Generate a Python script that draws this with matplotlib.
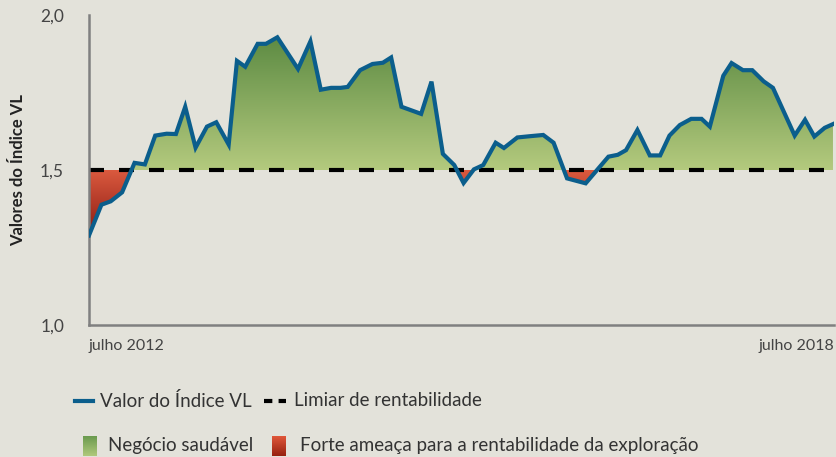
import numpy as np
import matplotlib
matplotlib.use("Agg")
import matplotlib.pyplot as plt
from matplotlib.path import Path
from matplotlib.patches import PathPatch
from matplotlib.lines import Line2D
from matplotlib.colors import LinearSegmentedColormap

# months since July 2012 and value of the VL index
months = [0.0, 1.2, 2.1, 3.2, 4.4, 5.4, 6.4, 7.5, 8.4, 9.3,
          10.3, 11.4, 12.3, 13.5, 14.3, 15.1, 16.3, 17.1, 18.2, 20.2,
          21.4, 22.4, 23.4, 24.3, 25.0, 26.2, 27.4, 28.4, 29.2, 30.2,
          32.1, 33.1, 34.2, 35.3, 36.2, 37.2, 38.1, 39.3, 40.1, 41.4,
          42.6, 43.9, 44.9, 46.2, 48.0, 50.2, 51.1, 51.9, 53.0, 54.2,
          55.2, 56.1, 57.1, 58.2, 59.2, 60.0, 61.3, 62.1, 63.2, 64.1,
          65.2, 66.1, 68.2, 69.2, 70.1, 71.1, 71.9]
index_vl = [1.289, 1.388, 1.399, 1.428, 1.523, 1.518, 1.611, 1.617, 1.616, 1.704,
            1.572, 1.640, 1.654, 1.582, 1.852, 1.833, 1.907, 1.907, 1.928, 1.826,
            1.915, 1.759, 1.765, 1.765, 1.768, 1.822, 1.842, 1.846, 1.863, 1.704,
            1.681, 1.785, 1.552, 1.516, 1.458, 1.502, 1.516, 1.588, 1.571, 1.605,
            1.609, 1.613, 1.588, 1.473, 1.457, 1.543, 1.549, 1.564, 1.629, 1.547,
            1.547, 1.611, 1.645, 1.665, 1.665, 1.640, 1.804, 1.845, 1.822, 1.822,
            1.786, 1.765, 1.611, 1.662, 1.608, 1.636, 1.648]
threshold = 1.5
x_ticks = [0, 72]
x_labels = ["julho 2012", "julho 2018"]
y_ticks = [1.0, 1.5, 2.0]
y_labels = ["1,0", "1,5", "2,0"]

BG = "#e3e2da"
LINE = "#0b5e8c"
TXT = "#333333"
plt.rcParams["font.family"] = ["Lato", "DejaVu Sans"]

x = np.array(months)
y = np.array(index_vl)

fig = plt.figure(figsize=(8.36, 4.57), dpi=100, facecolor=BG)
ax = fig.add_axes([89 / 836, 1 - 325 / 457, 745 / 836, 310 / 457])
ax.set_facecolor(BG)

green = LinearSegmentedColormap.from_list("g", ["#b4ca7e", "#5d8b43"])
red = LinearSegmentedColormap.from_list("r", ["#8a1a12", "#dc5b3f"])
grad = np.linspace(0, 1, 256).reshape(-1, 1)


def gradient_fill(mask, cmap, lo, hi):
    coll = ax.fill_between(x, y, threshold, where=mask, interpolate=True,
                           facecolor="none", edgecolor="none")
    path = Path.make_compound_path(*coll.get_paths())
    patch = PathPatch(path, transform=ax.transData, facecolor="none", edgecolor="none")
    ax.add_patch(patch)
    im = ax.imshow(grad, extent=[x[0], x[-1], lo, hi], origin="lower", cmap=cmap,
                   aspect="auto", zorder=1, interpolation="bilinear")
    im.set_clip_path(patch)


gradient_fill(y >= threshold, green, threshold, y.max())
gradient_fill(y <= threshold, red, y.min(), threshold)

ax.axhline(threshold, color="black", lw=3, dashes=(3.6, 3.6), zorder=2)
ax.plot(x, y, color=LINE, lw=3, solid_joinstyle="miter", zorder=3)

ax.set_xlim(0, 72)
ax.set_ylim(1.0, 2.0)

for s in ["top", "right"]:
    ax.spines[s].set_visible(False)
for s in ["left", "bottom"]:
    ax.spines[s].set_color("#808080")
    ax.spines[s].set_linewidth(1.8)

ax.set_yticks(y_ticks, y_labels)
ax.set_xticks(x_ticks, x_labels)
ax.tick_params(axis="both", length=0, labelcolor="#444444")
ax.tick_params(axis="y", pad=18, labelsize=12.5)
ax.tick_params(axis="x", pad=10, labelsize=11.5)
ax.get_xticklabels()[0].set_ha("left")
ax.get_xticklabels()[1].set_ha("right")

# small corner ticks
ax.set_xticks([0], minor=True)
ax.set_yticks([1.0], minor=True)
ax.tick_params(which="minor", length=7, width=1.8, color="#808080", direction="out",
               labelbottom=False, labelleft=False)

fig.text(18 / 836, 1 - 170 / 457, "Valores do Índice VL", rotation=90, ha="center",
         va="center", fontsize=12, fontweight="bold", color="#222222")

# legend, row 1
ry = 1 - 401 / 457
fig.add_artist(Line2D([75 / 836, 93 / 836], [ry, ry], color=LINE, lw=3,
                      transform=fig.transFigure))
fig.text(100 / 836, ry, "Valor do Índice VL", va="center", fontsize=13.5, color=TXT)
fig.add_artist(Line2D([264 / 836, 286 / 836], [ry, ry], color="black", lw=3,
                      dashes=(2.0, 1.5), transform=fig.transFigure))
fig.text(294 / 836, ry, "Limiar de rentabilidade", va="center", fontsize=13.5, color=TXT)

# legend, row 2 with gradient swatches
ry2 = 1 - 445 / 457


def swatch(x0, cmap):
    sax = fig.add_axes([x0 / 836, 1 - 456 / 457, 14 / 836, 20 / 457])
    sax.imshow(grad, origin="lower", cmap=cmap, aspect="auto")
    sax.set_axis_off()


swatch(83, LinearSegmentedColormap.from_list("g2", ["#b0c97c", "#6a9a4e"]))
fig.text(108 / 836, ry2, "Negócio saudável", va="center", fontsize=13.5, color=TXT)
swatch(272, LinearSegmentedColormap.from_list("r2", ["#96200f", "#e0573a"]))
fig.text(300 / 836, ry2, "Forte ameaça para a rentabilidade da exploração", va="center",
         fontsize=13.5, color=TXT)

fig.savefig("out.png", dpi=100, facecolor=BG)
